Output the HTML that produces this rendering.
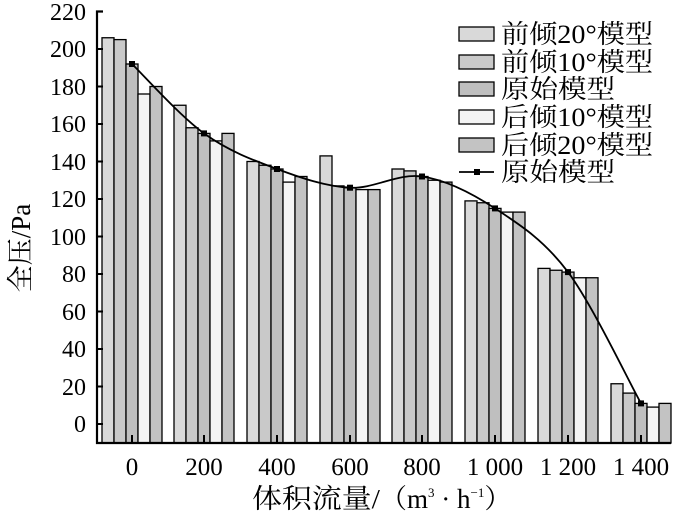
<!DOCTYPE html>
<html><head><meta charset="utf-8"><style>
html,body{margin:0;padding:0;background:#fff;}
svg text{font-family:"Liberation Serif","Noto Serif CJK SC",serif;fill:#000;}
</style></head><body>
<svg width="677" height="518" viewBox="0 0 677 518" xmlns="http://www.w3.org/2000/svg">
<g stroke="#000" stroke-width="1.3">
<rect x="102" y="37.75" width="12" height="405.25" fill="#d9d9d9"/>
<rect x="114" y="39.6" width="12" height="403.4" fill="#c9c9c9"/>
<rect x="126" y="64" width="12" height="379" fill="#bfbfbf"/>
<rect x="138" y="94" width="12" height="349" fill="#f4f4f4"/>
<rect x="150" y="86.5" width="12" height="356.5" fill="#c3c3c3"/>
<rect x="174" y="105.25" width="12" height="337.75" fill="#d9d9d9"/>
<rect x="186" y="127.75" width="12" height="315.25" fill="#c9c9c9"/>
<rect x="198" y="133.4" width="12" height="309.6" fill="#bfbfbf"/>
<rect x="210" y="140.9" width="12" height="302.1" fill="#f4f4f4"/>
<rect x="222" y="133.4" width="12" height="309.6" fill="#c3c3c3"/>
<rect x="247" y="161.5" width="12" height="281.5" fill="#d9d9d9"/>
<rect x="259" y="165.25" width="12" height="277.75" fill="#c9c9c9"/>
<rect x="271" y="169" width="12" height="274" fill="#bfbfbf"/>
<rect x="283" y="182.1" width="12" height="260.9" fill="#f4f4f4"/>
<rect x="295" y="176.5" width="12" height="266.5" fill="#c3c3c3"/>
<rect x="320" y="155.9" width="12" height="287.1" fill="#d9d9d9"/>
<rect x="332" y="185.9" width="12" height="257.1" fill="#c9c9c9"/>
<rect x="344" y="187.75" width="12" height="255.25" fill="#bfbfbf"/>
<rect x="356" y="189.6" width="12" height="253.4" fill="#f4f4f4"/>
<rect x="368" y="189.6" width="12" height="253.4" fill="#c3c3c3"/>
<rect x="392" y="169" width="12" height="274" fill="#d9d9d9"/>
<rect x="404" y="170.9" width="12" height="272.1" fill="#c9c9c9"/>
<rect x="416" y="176.5" width="12" height="266.5" fill="#bfbfbf"/>
<rect x="428" y="180.25" width="12" height="262.75" fill="#f4f4f4"/>
<rect x="440" y="182.1" width="12" height="260.9" fill="#c3c3c3"/>
<rect x="465" y="200.9" width="12" height="242.1" fill="#d9d9d9"/>
<rect x="477" y="202.75" width="12" height="240.25" fill="#c9c9c9"/>
<rect x="489" y="208.4" width="12" height="234.6" fill="#bfbfbf"/>
<rect x="501" y="212.1" width="12" height="230.9" fill="#f4f4f4"/>
<rect x="513" y="212.1" width="12" height="230.9" fill="#c3c3c3"/>
<rect x="538" y="268.4" width="12" height="174.6" fill="#d9d9d9"/>
<rect x="550" y="270.25" width="12" height="172.75" fill="#c9c9c9"/>
<rect x="562" y="272.1" width="12" height="170.9" fill="#bfbfbf"/>
<rect x="574" y="277.75" width="12" height="165.25" fill="#f4f4f4"/>
<rect x="586" y="277.75" width="12" height="165.25" fill="#c3c3c3"/>
<rect x="611" y="383.75" width="12" height="59.25" fill="#d9d9d9"/>
<rect x="623" y="393.1" width="12" height="49.9" fill="#c9c9c9"/>
<rect x="635" y="403.4" width="12" height="39.6" fill="#bfbfbf"/>
<rect x="647" y="407.1" width="12" height="35.9" fill="#f4f4f4"/>
<rect x="659" y="403.4" width="12" height="39.6" fill="#c3c3c3"/>
</g>
<g stroke="#000" stroke-width="2.2" fill="none">
<path d="M103 11.5 H97 V443 H671"/>
</g>
<g stroke="#000" stroke-width="2">
<line x1="97" y1="49" x2="103" y2="49"/><line x1="97" y1="86.5" x2="103" y2="86.5"/>
<line x1="97" y1="124" x2="103" y2="124"/><line x1="97" y1="161.5" x2="103" y2="161.5"/>
<line x1="97" y1="199" x2="103" y2="199"/><line x1="97" y1="236.5" x2="103" y2="236.5"/>
<line x1="97" y1="274" x2="103" y2="274"/><line x1="97" y1="311.5" x2="103" y2="311.5"/>
<line x1="97" y1="349" x2="103" y2="349"/><line x1="97" y1="386.5" x2="103" y2="386.5"/>
<line x1="97" y1="424" x2="103" y2="424"/>
<line x1="132" y1="435" x2="132" y2="443"/><line x1="204" y1="435" x2="204" y2="443"/>
<line x1="277" y1="435" x2="277" y2="443"/><line x1="350" y1="435" x2="350" y2="443"/>
<line x1="422" y1="435" x2="422" y2="443"/><line x1="495" y1="435" x2="495" y2="443"/>
<line x1="568" y1="435" x2="568" y2="443"/><line x1="641" y1="435" x2="641" y2="443"/>
</g>
<path d="M132 64 C144 75.6 179.8 115.9 204 133.4 C228.2 150.9 252.7 160 277 169 C301.3 178 325.8 186.5 350 187.7 C374.2 188.9 397.8 173 422 176.5 C446.2 180 470.7 192.5 495 208.4 C519.3 224.3 543.7 239.6 568 272.1 C592.3 304.6 628.8 381.5 641 403.4" fill="none" stroke="#000" stroke-width="1.8"/>
<g fill="#000">
<rect x="129" y="61" width="6" height="6"/><rect x="201" y="130.4" width="6" height="6"/>
<rect x="274" y="166" width="6" height="6"/><rect x="347" y="184.7" width="6" height="6"/>
<rect x="419" y="173.5" width="6" height="6"/><rect x="492" y="205.4" width="6" height="6"/>
<rect x="565" y="269.1" width="6" height="6"/><rect x="638" y="400.4" width="6" height="6"/>
</g>
<g font-size="24" text-anchor="end">
<text x="86" y="20">220</text><text x="86" y="57">200</text><text x="86" y="95">180</text>
<text x="86" y="132">160</text><text x="86" y="170">140</text><text x="86" y="207">120</text>
<text x="86" y="245">100</text><text x="86" y="282">80</text><text x="86" y="320">60</text>
<text x="86" y="357">40</text><text x="86" y="395">20</text><text x="86" y="432">0</text>
</g>
<g font-size="25" text-anchor="middle">
<text x="132" y="475">0</text><text x="204" y="475">200</text><text x="277" y="475">400</text>
<text x="350" y="475">600</text><text x="422" y="475">800</text><text x="495" y="475">1 000</text>
<text x="568" y="475">1 200</text><text x="641" y="475">1 400</text>
</g>
<text x="252" y="508" font-size="27"><tspan textLength="128" lengthAdjust="spacingAndGlyphs">体积流量/</tspan>（m<tspan font-size="13" dy="-11">3</tspan><tspan dy="11"> · h</tspan><tspan font-size="13" dy="-11">−1</tspan><tspan dy="11">）</tspan></text>
<text transform="translate(30,248) rotate(-90)" font-size="27" text-anchor="middle">全压/Pa</text>
<g stroke="#000" stroke-width="1.3">
<rect x="459" y="27" width="35" height="14" fill="#d9d9d9"/>
<rect x="459" y="55" width="35" height="14" fill="#c9c9c9"/>
<rect x="459" y="82" width="35" height="14" fill="#bfbfbf"/>
<rect x="459" y="110" width="35" height="14" fill="#f4f4f4"/>
<rect x="459" y="138" width="35" height="14" fill="#c3c3c3"/>
<line x1="459" y1="172" x2="494" y2="172" stroke-width="1.8"/>
</g>
<rect x="474" y="169" width="6" height="6" fill="#000"/>
<g font-size="26">
<text x="501" y="43" textLength="152" lengthAdjust="spacingAndGlyphs">前倾20°模型</text>
<text x="501" y="71" textLength="152" lengthAdjust="spacingAndGlyphs">前倾10°模型</text>
<text x="501" y="98" textLength="114" lengthAdjust="spacingAndGlyphs">原始模型</text>
<text x="501" y="126" textLength="152" lengthAdjust="spacingAndGlyphs">后倾10°模型</text>
<text x="501" y="154" textLength="152" lengthAdjust="spacingAndGlyphs">后倾20°模型</text>
<text x="501" y="181" textLength="114" lengthAdjust="spacingAndGlyphs">原始模型</text>
</g>
</svg>
</body></html>
